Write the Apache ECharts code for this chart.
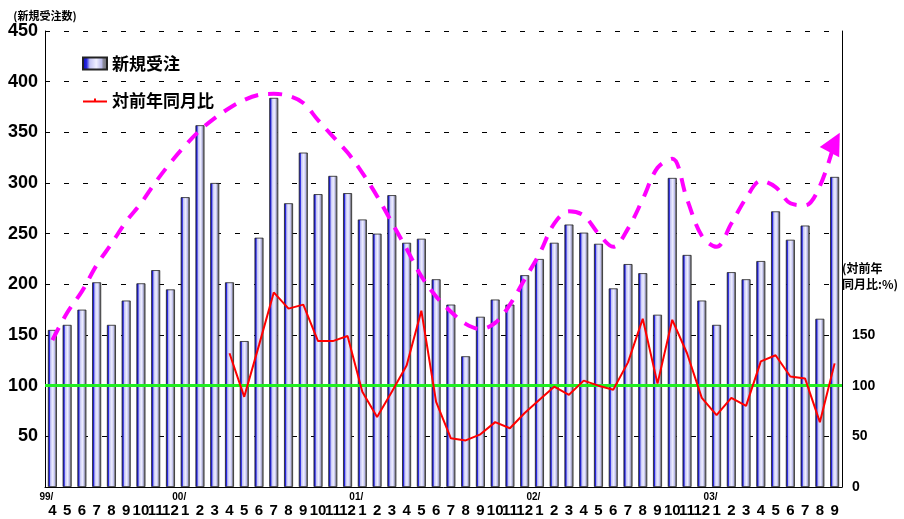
<!DOCTYPE html>
<html>
<head>
<meta charset="utf-8">
<script src="https://cdn.jsdelivr.net/npm/echarts@6/dist/echarts.min.js"></script>
<style>
  html, body { margin: 0; padding: 0; background: #fff; }
  #chart { width: 904px; height: 519px; }
</style>
</head>
<body>
<div id="chart"></div>
<script>
// 月 (先頭に年を付けたものは年の区切り)
var months = ['99/4', '5', '6', '7', '8', '9', '10', '11', '12',
  '00/1', '2', '3', '4', '5', '6', '7', '8', '9', '10', '11', '12',
  '01/1', '2', '3', '4', '5', '6', '7', '8', '9', '10', '11', '12',
  '02/1', '2', '3', '4', '5', '6', '7', '8', '9', '10', '11', '12',
  '03/1', '2', '3', '4', '5', '6', '7', '8', '9'];

// 新規受注数
var orders = [155, 160, 175, 202, 160, 184, 201, 214, 195,
  286, 357, 300, 202, 144, 246, 384, 280, 330, 289, 307, 290,
  264, 250, 288, 241, 245, 205, 180, 129, 168, 185, 180, 209,
  225, 241, 259, 251, 240, 196, 220, 211, 170, 305, 229, 184,
  160, 212, 205, 223, 272, 244, 258, 166, 306];

// 対前年同月比 (%)
var yoy = [null, null, null, null, null, null, null, null, null,
  null, null, null, 132, 89, 140, 192, 176, 180, 144, 144, 149,
  94, 69, 94, 120, 174, 84, 48, 46, 52, 64, 58, 73,
  86, 99, 91, 105, 100, 96, 123, 166, 102, 165, 132, 88,
  71, 88, 80, 124, 130, 109, 107, 64, 122];

// トレンド (手書きの破線)
var trend = [145, 172, 193, 219, 240, 262, 280, 301, 320,
  337, 352, 364, 374, 382, 387, 388, 386, 379, 362, 346, 330,
  310, 287, 261, 235, 208, 188, 173, 161, 156, 162, 180, 205,
  230, 260, 272, 268, 250, 237, 255, 284, 315, 324, 284, 248,
  237, 260, 285, 302, 296, 280, 278, 297, 340];

var leftTicks = [0, 450, 50];
var rightTicks = [0, 450, 50];

var numFont = 'Liberation Sans, Noto Sans CJK JP, sans-serif';
var jpFont = 'Noto Sans CJK JP, sans-serif';

var chart = echarts.init(document.getElementById('chart'));
var lastIdx = trend.length - 1;

var option = {
  animation: false,
  grid: { left: 45, right: 62, top: 31, bottom: 32 },
  legend: {
    orient: 'vertical',
    left: 77,
    top: 50,
    itemGap: 20,
    itemWidth: 24,
    itemHeight: 12,
    data: [
      { name: '新規受注', icon: 'rect' },
      { name: '対前年同月比', icon: 'path://M0,5 L24,5 L24,7 L0,7 Z M11,3 L13,3 L13,7 L11,7 Z' }
    ],
    textStyle: { fontFamily: jpFont, fontWeight: 'bold', fontSize: 17, color: '#000' }
  },
  xAxis: {
    type: 'category',
    data: months,
    axisLine: { lineStyle: { color: '#000', width: 1 } },
    axisTick: { inside: true, length: 6, lineStyle: { color: '#000' } },
    axisLabel: {
      interval: 0,
      margin: 4,
      formatter: function (v) {
        var p = v.split('/');
        if (p.length > 1) {
          return '{y|' + p[0] + '/}\n{m|' + p[1] + '}';
        }
        return '{y| }\n{m|' + v + '}';
      },
      rich: {
        y: { fontFamily: numFont, fontWeight: 'bold', fontSize: 10, color: '#000', lineHeight: 12, padding: [0, 12, 0, 0] },
        m: { fontFamily: numFont, fontWeight: 'bold', fontSize: 15, color: '#000', lineHeight: 15 }
      }
    }
  },
  yAxis: [
    {
      type: 'value',
      min: leftTicks[0],
      max: leftTicks[1],
      interval: leftTicks[2],
      name: '(新規受注数)',
      nameLocation: 'end',
      nameGap: 10,
      nameTextStyle: { fontFamily: jpFont, fontWeight: 'bold', fontSize: 11, color: '#000', align: 'center' },
      axisLine: { show: true, lineStyle: { color: '#000' } },
      axisTick: { show: false },
      axisLabel: {
        fontFamily: numFont, fontWeight: 'bold', fontSize: 18, color: '#000', margin: 7,
        formatter: function (v) { return v === 0 ? '' : v; }
      },
      splitLine: { show: true, lineStyle: { color: '#000', type: [5, 14], width: 1 } }
    },
    {
      type: 'value',
      min: rightTicks[0],
      max: rightTicks[1],
      interval: rightTicks[2],
      position: 'right',
      axisLine: { show: true, lineStyle: { color: '#000' } },
      axisTick: { show: false },
      axisLabel: {
        fontFamily: numFont, fontWeight: 'bold', fontSize: 14, color: '#000', margin: 10,
        formatter: function (v) { return v <= 150 ? v : ''; }
      },
      splitLine: { show: false }
    }
  ],
  graphic: [
    {
      type: 'text',
      left: 842,
      top: 260,
      style: {
        text: '(対前年\n同月比:%)',
        fontFamily: jpFont,
        fontWeight: 'bold',
        fontSize: 12,
        lineHeight: 16,
        fill: '#000'
      }
    }
  ],
  series: [
    {
      name: '新規受注',
      type: 'bar',
      barWidth: 9,
      z: 2,
      itemStyle: {
        borderColor: '#222',
        borderWidth: 0.8,
        color: new echarts.graphic.LinearGradient(0, 0, 1, 0, [
          { offset: 0, color: '#0000b0' },
          { offset: 0.18, color: '#2a2ae0' },
          { offset: 0.3, color: '#c4c4f4' },
          { offset: 0.55, color: '#f0f0ff' },
          { offset: 0.75, color: '#bcbcec' },
          { offset: 0.82, color: '#8a8a9a' },
          { offset: 1, color: '#6a6a6a' }
        ])
      },
      markLine: {
        silent: true,
        symbol: 'none',
        label: { show: false },
        lineStyle: { color: '#22ee22', width: 3, type: 'solid' },
        data: [{ yAxis: 100 }]
      },
      data: orders
    },
    {
      name: 'トレンド',
      type: 'line',
      smooth: 0.35,
      z: 4,
      symbol: 'triangle',
      symbolSize: function (v, p) { return p.dataIndex === lastIdx ? 22 : 0; },
      symbolRotate: -28,
      showSymbol: true,
      itemStyle: { color: '#ff00ff' },
      lineStyle: { color: '#ff00ff', width: 4, type: [14, 10] },
      data: trend
    },
    {
      name: '対前年同月比',
      type: 'line',
      yAxisIndex: 1,
      z: 5,
      symbol: 'none',
      itemStyle: { color: '#ff0000' },
      lineStyle: { color: '#ff0000', width: 2 },
      data: yoy
    }
  ]
};

chart.setOption(option);
</script>
</body>
</html>
